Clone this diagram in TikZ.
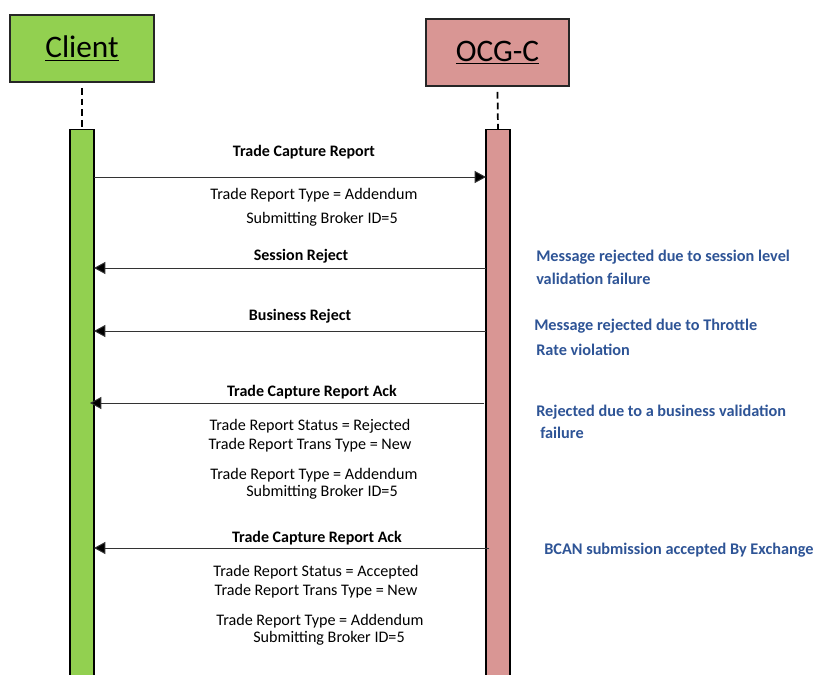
\documentclass[tikz,border=0pt]{standalone}
\usepackage{fontspec}
\setmainfont{Carlito}
\usetikzlibrary{arrows.meta}
\definecolor{cgreen}{HTML}{92D050}
\definecolor{cpink}{HTML}{D99694}
\definecolor{cblue}{HTML}{2E5496}
\tikzset{
  header/.style={draw=black!85, line width=0.9pt, minimum width=#1, minimum height=50.25pt, inner sep=0pt, font=\fontsize{23.5}{26}\selectfont},
  actbar/.style={draw=black, line width=0.9pt, minimum width=18pt, minimum height=420pt, anchor=north, inner sep=0pt},
  lifeline/.style={dashed, line width=1.3pt, dash pattern=on 5pt off 3pt},
  msg/.style={draw=black!80, line width=0.7pt, -{Triangle[length=8.5pt,width=9pt,fill=black]}},
  lbl/.style={font=\fontsize{12}{14}\selectfont\bfseries, inner sep=0pt},
  info/.style={font=\fontsize{12.1}{14}\selectfont, inner sep=0pt},
  note/.style={font=\fontsize{12.2}{14}\selectfont\bfseries, text=cblue, inner sep=0pt, anchor=west},
}
\begin{document}
\begin{tikzpicture}[x=0.75pt,y=-0.75pt]
\useasboundingbox (0,0) rectangle (816,674);
\clip (0,0) rectangle (816,674);
% headers
\node[header=108pt, fill=cgreen] (client) at (82,48.5) {\underline{Client}};
\node[header=107.25pt, fill=cpink] (ocg) at (497.5,52.5) {\underline{OCG-C}};
% activation bars
\node[actbar, fill=cgreen] (cbar) at (82,129) {};
\node[actbar, fill=cpink] (obar) at (498,129) {};
% lifelines
\draw[lifeline] (client.south) ++(0,-4pt) coordinate (cl1) (cl1) -- (cbar.north);
\draw[lifeline] (ocg.south) ++(0,-4pt) coordinate (ol1) (ol1) -- (obar.north);
% message end points
\coordinate (c1) at (94,177);  \coordinate (o1) at (486,177);
\coordinate (c2) at (94,268);  \coordinate (o2) at (486,268);
\coordinate (c3) at (94,331);  \coordinate (o3) at (486,331);
\coordinate (c4) at (90,403);  \coordinate (o4) at (484,403);
\coordinate (c5) at (94,548);  \coordinate (o5) at (489,548);
% messages
\draw[msg] (c1) -- (o1);
\draw[msg] (o2) -- (c2);
\draw[msg] (o3) -- (c3);
\draw[msg] (o4) -- (c4);
\draw[msg] (o5) -- (c5);
% labels
\node[lbl] (l1) at (304,152) {Trade Capture Report};
\node[info] (i1a) at (314,195) {Trade Report Type = Addendum};
\node[info] (i1b) at (322,219) {Submitting Broker ID=5};
\node[lbl] (l2) at (301,256) {Session Reject};
\node[lbl] (l3) at (300,316) {Business Reject};
\node[lbl] (l4) at (312,392) {Trade Capture Report Ack};
\node[info] (i4a) at (310,426) {Trade Report Status = Rejected};
\node[info] (i4b) at (310,445) {Trade Report Trans Type = New};
\node[info] (i4c) at (314,475) {Trade Report Type = Addendum};
\node[info] (i4d) at (322,492) {Submitting Broker ID=5};
\node[lbl] (l5) at (317,538) {Trade Capture Report Ack};
\node[info] (i5a) at (316,572) {Trade Report Status = Accepted};
\node[info] (i5b) at (316,591) {Trade Report Trans Type = New};
\node[info] (i5c) at (320,621) {Trade Report Type = Addendum};
\node[info] (i5d) at (329,638) {Submitting Broker ID=5};
% notes
\node[note] (n2a) at (536,257) {Message rejected due to session level};
\node[note] (n2b) at (536,279) {validation failure};
\node[note] (n3a) at (534,326) {Message rejected due to Throttle};
\node[note] (n3b) at (536,350) {Rate violation};
\node[note] (n4a) at (536,412) {Rejected due to a business validation};
\node[note] (n4b) at (540,433) {failure};
\node[note] (n5) at (544,550) {BCAN submission accepted By Exchange};
\end{tikzpicture}
\end{document}
